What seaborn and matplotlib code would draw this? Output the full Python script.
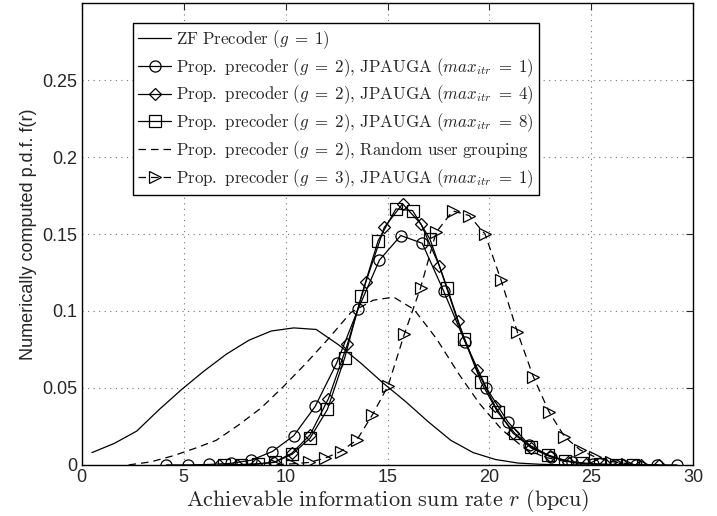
import matplotlib
matplotlib.use("Agg")
import matplotlib.pyplot as plt
import seaborn as sns

# ---- data ----
zf_x = [0.5, 1.6, 2.7, 3.8, 4.9, 6.0, 7.1, 8.2, 9.3, 10.4, 11.5, 12.6, 13.7,
        14.8, 15.9, 17.0, 18.1, 19.2, 20.3, 21.4, 22.5, 23.6, 24.7]
zf_y = [0.008, 0.014, 0.022, 0.036, 0.049, 0.061, 0.072, 0.081, 0.087, 0.089,
        0.088, 0.078, 0.066, 0.053, 0.041, 0.028, 0.016, 0.008, 0.0035, 0.0012,
        0.0004, 0.0001, 0.0]

it1_x = [4.15, 5.2, 6.25, 7.3, 8.3, 9.35, 10.4, 11.45, 12.5, 13.55, 14.6, 15.65,
         16.7, 17.75, 18.8, 19.85, 20.9, 21.95, 23.0, 24.05, 25.1, 26.15, 27.2,
         28.2, 29.2]
it1_y = [0.0, 0.0, 0.0003, 0.001, 0.003, 0.0087, 0.019, 0.038, 0.066, 0.101,
         0.133, 0.149, 0.144, 0.113, 0.080, 0.050, 0.028, 0.013, 0.0054, 0.002,
         0.0006, 0.0002, 0.0, 0.0, 0.0]

it4_x = [6.73, 7.63, 8.53, 9.43, 10.3, 11.2, 12.1, 13.03, 13.93, 14.84, 15.74,
         16.64, 17.54, 18.44, 19.39, 20.28, 21.15, 22.05, 22.95, 23.85, 24.75,
         25.65, 26.55, 27.45, 28.3]
it4_y = [0.0, 0.0002, 0.0006, 0.0016, 0.0076, 0.0195, 0.043, 0.0783, 0.1185,
         0.1543, 0.1696, 0.1565, 0.1293, 0.0935, 0.0615, 0.038, 0.0207, 0.011,
         0.0055, 0.0022, 0.0008, 0.0003, 0.0001, 0.0, 0.0]

it8_x = [7.0, 7.8, 8.65, 9.5, 10.33, 11.2, 12.05, 12.9, 13.72, 14.54, 15.41,
         16.23, 17.08, 17.92, 18.77, 19.59, 20.41, 21.23, 22.05, 22.88, 23.72,
         24.55, 25.4, 26.2, 27.05]
it8_y = [0.0, 0.0002, 0.0005, 0.002, 0.007, 0.0174, 0.036, 0.0696, 0.11, 0.1457,
         0.1663, 0.1652, 0.1467, 0.1152, 0.0815, 0.0537, 0.0341, 0.0207, 0.0115,
         0.0065, 0.0026, 0.001, 0.0003, 0.0001, 0.0]

rnd_x = [2.3, 3.4, 4.5, 5.6, 6.6, 7.7, 8.8, 9.9, 11.0, 12.1, 13.2, 14.3, 15.3,
         16.3, 17.4, 18.5, 19.5, 20.6, 21.7, 22.7, 23.8, 24.8]
rnd_y = [0.0, 0.002, 0.006, 0.011, 0.016, 0.026, 0.037, 0.051, 0.066, 0.082,
         0.099, 0.107, 0.109, 0.101, 0.082, 0.059, 0.040, 0.023, 0.011, 0.005,
         0.002, 0.0005]

g3_x = [9.55, 10.33, 11.13, 11.92, 12.7, 13.5, 14.26, 15.03, 15.82, 16.62, 17.38,
        18.2, 19.0, 19.78, 20.57, 21.37, 22.15, 22.92, 23.68, 24.45, 25.2, 25.95,
        26.75, 27.55]
g3_y = [0.0002, 0.0007, 0.0016, 0.0043, 0.0087, 0.0163, 0.0326, 0.0515, 0.0848,
        0.115, 0.151, 0.165, 0.162, 0.15, 0.12, 0.0863, 0.0573, 0.0345, 0.0184,
        0.0097, 0.005, 0.0022, 0.0008, 0.0002]

labels = [
    r"$\mathrm{ZF\ Precoder\ (}g\;=\;1\mathrm{)}$",
    r"$\mathrm{Prop.\ precoder\ (}g\;=\;2\mathrm{),\,JPAUGA\ (}max_{itr}\;=\;1\mathrm{)}$",
    r"$\mathrm{Prop.\ precoder\ (}g\;=\;2\mathrm{),\,JPAUGA\ (}max_{itr}\;=\;4\mathrm{)}$",
    r"$\mathrm{Prop.\ precoder\ (}g\;=\;2\mathrm{),\,JPAUGA\ (}max_{itr}\;=\;8\mathrm{)}$",
    r"$\mathrm{Prop.\ precoder\ (}g\;=\;2\mathrm{),\,Random\ user\ grouping}$",
    r"$\mathrm{Prop.\ precoder\ (}g\;=\;3\mathrm{),\,JPAUGA\ (}max_{itr}\;=\;1\mathrm{)}$",
]
xticks = [0, 5, 10, 15, 20, 25, 30]
yticks = [0, 0.05, 0.1, 0.15, 0.2, 0.25]
ytick_labels = ["0", "0.05", "0.1", "0.15", "0.2", "0.25"]

sns.set_style("white")
plt.rcParams["font.family"] = ["Liberation Sans", "DejaVu Sans"]
plt.rcParams["mathtext.fontset"] = "cm"

fig = plt.figure(figsize=(7.17, 5.16), dpi=100)
ax = fig.add_axes([0.114, 0.099, 0.853, 0.895])

dash = (0, (6, 4))
mk = dict(color="k", markerfacecolor="none", markeredgecolor="k",
          markeredgewidth=0.9, markersize=8, linewidth=0.9)

sns.lineplot(x=zf_x, y=zf_y, ax=ax, color="k", linewidth=0.9, label=labels[0])
sns.lineplot(x=it1_x, y=it1_y, ax=ax, marker="o", label=labels[1], **mk)
sns.lineplot(x=it4_x, y=it4_y, ax=ax, marker="D", label=labels[2],
             **{**mk, "markersize": 6.5})
sns.lineplot(x=it8_x, y=it8_y, ax=ax, marker="s", label=labels[3], **mk)
sns.lineplot(x=rnd_x, y=rnd_y, ax=ax, color="k", linewidth=0.9,
             linestyle=dash, label=labels[4])
sns.lineplot(x=g3_x, y=g3_y, ax=ax, marker=">", label=labels[5],
             linestyle=dash, **mk)

ax.set_xlim(0, 30)
ax.set_ylim(0, 0.3)
ax.set_xticks(xticks)
ax.set_yticks(yticks)
ax.set_yticklabels(ytick_labels)
ax.tick_params(direction="in", top=True, right=True, labelsize=13,
               length=5, width=0.8, pad=3)
ax.grid(True, linestyle=(0, (1, 4)), color="0.45", linewidth=0.8)
ax.set_axisbelow(True)
for s in ax.spines.values():
    s.set_color("k")
    s.set_linewidth(1.0)

ax.set_xlabel(r"$\mathrm{Achievable\ information\ sum\ rate}\ r\ \mathrm{(bpcu)}$",
              fontsize=16, labelpad=1)
ax.set_ylabel("Numerically computed p.d.f. f(r)", fontsize=13, labelpad=4)

leg = ax.legend(loc="upper left", bbox_to_anchor=(0.083, 0.957), fontsize=12.2,
                frameon=True, fancybox=False, edgecolor="k", framealpha=1,
                handlelength=2.0, handletextpad=0.25, labelspacing=0.3,
                borderpad=0.3, borderaxespad=0)
leg.get_frame().set_linewidth(1.0)

fig.savefig("out.png", dpi=100)
